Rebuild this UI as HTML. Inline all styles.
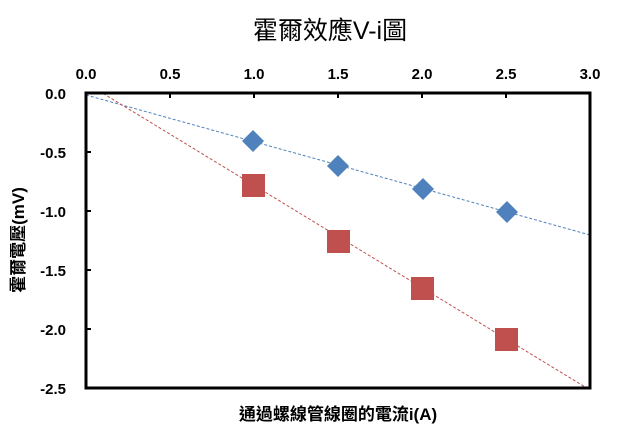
<!DOCTYPE html>
<html><head><meta charset="utf-8"><style>body{margin:0;background:#fff}</style></head><body>
<svg width="621" height="437" xmlns="http://www.w3.org/2000/svg" font-family="Liberation Sans, Noto Sans CJK TC, sans-serif">
<defs><clipPath id="c"><rect x="86" y="93" width="504" height="295"/></clipPath></defs>
<text x="330" y="39" font-size="25" text-anchor="middle">霍爾效應V-i圖</text>
<g font-size="15" font-weight="bold" text-anchor="middle">
<text x="86" y="79">0.0</text><text x="170" y="79">0.5</text><text x="254" y="79">1.0</text><text x="338" y="79">1.5</text><text x="422" y="79">2.0</text><text x="506" y="79">2.5</text><text x="590" y="79">3.0</text>
</g>
<g font-size="15" font-weight="bold" text-anchor="end">
<text x="66" y="99">0.0</text><text x="66" y="158">-0.5</text><text x="66" y="217">-1.0</text><text x="66" y="276">-1.5</text><text x="66" y="335">-2.0</text><text x="66" y="394">-2.5</text>
</g>
<g clip-path="url(#c)" stroke-dasharray="3,2" stroke-width="1">
<line x1="86" y1="95" x2="590" y2="235" stroke="#4f81bd"/>
<line x1="86" y1="83" x2="590" y2="390" stroke="#c0504d"/>
</g>
<g fill="#4f81bd">
<path d="M253 130 L264 141 L253 152 L242 141Z"/><path d="M338 155 L349 166 L338 177 L327 166Z"/><path d="M423 178 L434 189 L423 200 L412 189Z"/><path d="M507 201 L518 212 L507 223 L496 212Z"/>
</g>
<g fill="#c0504d">
<rect x="242" y="174" width="23" height="23"/><rect x="327" y="230" width="23" height="23"/><rect x="411" y="277" width="23" height="23"/><rect x="495" y="328" width="23" height="23"/>
</g>
<rect x="86" y="93" width="504" height="295" fill="none" stroke="#000" stroke-width="3"/>
<g stroke="#000" stroke-width="2">
<line x1="170" y1="93" x2="170" y2="98"/><line x1="254" y1="93" x2="254" y2="98"/><line x1="338" y1="93" x2="338" y2="98"/><line x1="422" y1="93" x2="422" y2="98"/><line x1="506" y1="93" x2="506" y2="98"/>
<line x1="86" y1="152" x2="91" y2="152"/><line x1="86" y1="211" x2="91" y2="211"/><line x1="86" y1="270" x2="91" y2="270"/><line x1="86" y1="329" x2="91" y2="329"/>
</g>
<text x="338" y="420" font-size="17" font-weight="bold" text-anchor="middle">通過螺線管線圈的電流i(A)</text>
<text transform="translate(24,240) rotate(-90)" font-size="17" font-weight="bold" text-anchor="middle">霍爾電壓(mV)</text>
</svg>
</body></html>
